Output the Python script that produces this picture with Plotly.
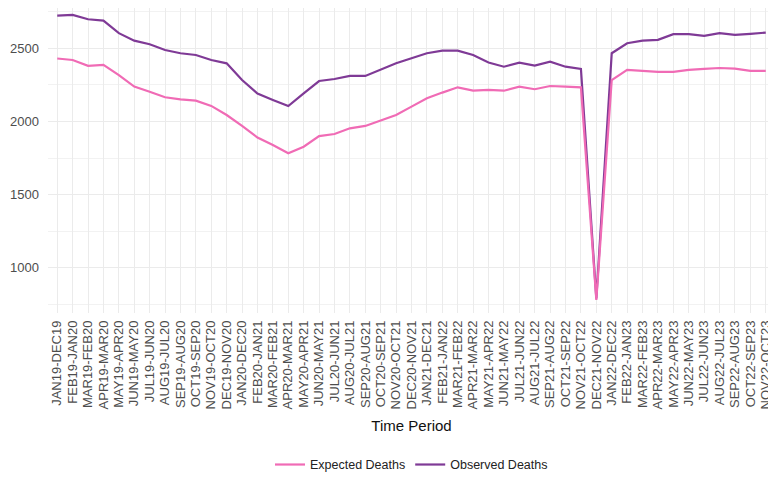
import plotly.graph_objects as go

periods = [
    "JAN19-DEC19", "FEB19-JAN20", "MAR19-FEB20", "APR19-MAR20", "MAY19-APR20", "JUN19-MAY20",
    "JUL19-JUN20", "AUG19-JUL20", "SEP19-AUG20", "OCT19-SEP20", "NOV19-OCT20", "DEC19-NOV20",
    "JAN20-DEC20", "FEB20-JAN21", "MAR20-FEB21", "APR20-MAR21", "MAY20-APR21", "JUN20-MAY21",
    "JUL20-JUN21", "AUG20-JUL21", "SEP20-AUG21", "OCT20-SEP21", "NOV20-OCT21", "DEC20-NOV21",
    "JAN21-DEC21", "FEB21-JAN22", "MAR21-FEB22", "APR21-MAR22", "MAY21-APR22", "JUN21-MAY22",
    "JUL21-JUN22", "AUG21-JUL22", "SEP21-AUG22", "OCT21-SEP22", "NOV21-OCT22", "DEC21-NOV22",
    "JAN22-DEC22", "FEB22-JAN23", "MAR22-FEB23", "APR22-MAR23", "MAY22-APR23", "JUN22-MAY23",
    "JUL22-JUN23", "AUG22-JUL23", "SEP22-AUG23", "OCT22-SEP23", "NOV22-OCT23",
]

expected_deaths = [
    2430, 2420, 2380, 2386, 2317, 2238, 2203, 2165, 2151, 2142, 2106, 2044,
    1969, 1890, 1839, 1782, 1827, 1900, 1914, 1953, 1969, 2005, 2044, 2101,
    2158, 2197, 2233, 2210, 2215, 2210, 2238, 2220, 2242, 2238, 2233, 780,
    2283, 2352, 2345, 2338, 2338, 2352, 2359, 2365, 2361, 2345, 2345,
]

observed_deaths = [
    2723, 2728, 2698, 2689, 2603, 2552, 2527, 2488, 2466, 2454, 2420, 2397,
    2283, 2190, 2147, 2105, 2192, 2276, 2290, 2311, 2311, 2352, 2397, 2432,
    2466, 2484, 2484, 2454, 2402, 2374, 2402, 2381, 2408, 2374, 2359, 790,
    2466, 2534, 2552, 2557, 2596, 2596, 2584, 2603, 2591, 2598, 2607,
]

y_ticks = [1000, 1500, 2000, 2500]
y_minor = [750, 1250, 1750, 2250, 2750]

fig = go.Figure()
fig.add_trace(go.Scatter(
    x=periods, y=observed_deaths, mode="lines", name="Observed Deaths",
    line=dict(color="#7f3a96", width=2.2),
))
fig.add_trace(go.Scatter(
    x=periods, y=expected_deaths, mode="lines", name="Expected Deaths",
    line=dict(color="#f06bb5", width=2.2),
))

font_family = "Liberation Sans, Arial, sans-serif"
fig.update_layout(
    width=768, height=469,
    margin=dict(l=40, r=1, t=0, b=164, autoexpand=False),
    paper_bgcolor="white", plot_bgcolor="white",
    font=dict(family=font_family, color="#4d4d4d", size=13),
    showlegend=True,
    legend=dict(
        orientation="h", x=0.5, xanchor="center", y=-0.498, yanchor="middle",
        traceorder="reversed", font=dict(size=12.5, color="#222222"),
    ),
    xaxis=dict(
        type="category", categoryorder="array", categoryarray=periods,
        tickmode="array", tickvals=periods, ticktext=periods,
        range=[-0.6, len(periods) - 0.4],
        tickangle=-90, tickfont=dict(size=13, color="#4d4d4d"),
        showgrid=True, gridcolor="#ebebeb", gridwidth=1.3,
        showline=False, zeroline=False, ticks="",
        automargin=False, ticklabeloverflow="allow", ticklabelstandoff=4,
        title=dict(text="Time Period", font=dict(size=15, color="#111111"), standoff=12),
    ),
    yaxis=dict(
        range=[691, 2775], tickvals=y_ticks,
        tickfont=dict(size=13, color="#4d4d4d"),
        showgrid=True, gridcolor="#ebebeb", gridwidth=1.3,
        minor=dict(tickvals=y_minor, showgrid=True, gridcolor="#f2f2f2", gridwidth=1),
        showline=False, zeroline=False, ticks="",
        automargin=False, ticklabelstandoff=8,
    ),
)

fig.write_html("out.html")
